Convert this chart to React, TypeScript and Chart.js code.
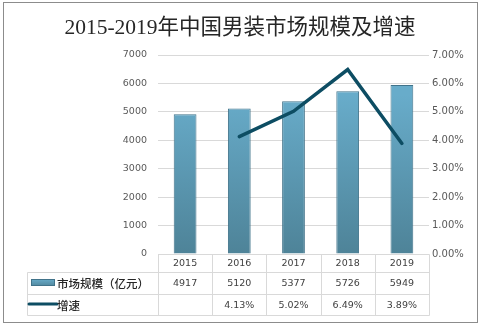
import React, { useEffect, useRef } from "react";
import { Chart, registerables } from "chart.js";

Chart.register(...registerables);

const TITLE = "2015-2019年中国男装市场规模及增速";
const YEARS = ["2015", "2016", "2017", "2018", "2019"];
const MARKET_LABEL = "市场规模（亿元）";
const GROWTH_LABEL = "增速";
const MARKET = [4917, 5120, 5377, 5726, 5949];
const GROWTH: (number | null)[] = [null, 4.13, 5.02, 6.49, 3.89];
const LEFT_TICKS = [0, 1000, 2000, 3000, 4000, 5000, 6000, 7000];
const RIGHT_TICKS = [0, 1, 2, 3, 4, 5, 6, 7];

const W = 483;
const H = 326;
const NUM_FONT = '9.5px "DejaVu Sans", sans-serif';
const TEXT_COLOR = "#404040";

function barGradient(ctx: CanvasRenderingContext2D, top: number, bottom: number) {
  const g = ctx.createLinearGradient(0, top, 0, bottom);
  g.addColorStop(0, "#68acca");
  g.addColorStop(1, "#4e8398");
  return g;
}

const tablePlugin = {
  id: "tablePlugin",
  beforeDraw(chart: any) {
    const ctx = chart.ctx as CanvasRenderingContext2D;
    ctx.save();
    ctx.fillStyle = "#ffffff";
    ctx.fillRect(0, 0, W, H);
    ctx.restore();
  },
  afterDraw(chart: any) {
    const ctx = chart.ctx as CanvasRenderingContext2D;
    const area = chart.chartArea;
    const xs = chart.scales.x;
    const n = YEARS.length;
    const colW = (area.right - area.left) / n;
    const legendLeft = 27.5;
    const r0 = Math.round(area.bottom) + 0.5;
    const r1 = 272.5;
    const r2 = 294.5;
    const r3 = 315.5;

    ctx.save();
    // outer border
    ctx.strokeStyle = "#8c8c8c";
    ctx.lineWidth = 1;
    ctx.strokeRect(3.5, 2.5, 474, 320);

    // title
    ctx.fillStyle = "#262626";
    ctx.font = '21.5px "Liberation Serif", "Noto Sans CJK SC", serif';
    ctx.textAlign = "center";
    ctx.textBaseline = "middle";
    ctx.fillText(TITLE, 240, 28);

    // table grid
    ctx.strokeStyle = "#d9d9d9";
    ctx.lineWidth = 1;
    ctx.beginPath();
    ctx.moveTo(Math.round(area.left) + 0.5, r0);
    ctx.lineTo(Math.round(area.right) + 0.5, r0);
    ctx.moveTo(legendLeft, r1);
    ctx.lineTo(Math.round(area.right) + 0.5, r1);
    ctx.moveTo(legendLeft, r2);
    ctx.lineTo(Math.round(area.right) + 0.5, r2);
    ctx.moveTo(legendLeft, r3);
    ctx.lineTo(Math.round(area.right) + 0.5, r3);
    ctx.moveTo(legendLeft, r1);
    ctx.lineTo(legendLeft, r3);
    for (let i = 0; i <= n; i++) {
      const x = Math.round(area.left + colW * i) + 0.5;
      ctx.moveTo(x, r0);
      ctx.lineTo(x, r3);
    }
    ctx.stroke();

    // header years and values
    ctx.fillStyle = TEXT_COLOR;
    ctx.font = NUM_FONT;
    ctx.textAlign = "center";
    ctx.textBaseline = "middle";
    for (let i = 0; i < n; i++) {
      const cx = xs.getPixelForValue(i);
      ctx.fillText(YEARS[i], cx, (r0 + r1) / 2 + 0.5);
      ctx.fillText(String(MARKET[i]), cx, (r1 + r2) / 2 + 0.5);
      const g = GROWTH[i];
      if (g !== null) ctx.fillText(g.toFixed(2) + "%", cx, (r2 + r3) / 2 + 0.5);
    }

    // legend swatches
    ctx.fillStyle = barGradient(ctx, 279, 287);
    ctx.fillRect(31, 279, 24, 7);
    ctx.strokeStyle = "#41738a";
    ctx.strokeRect(31.5, 279.5, 23, 6);

    ctx.strokeStyle = "#0d4d63";
    ctx.lineWidth = 3;
    ctx.lineCap = "round";
    ctx.beginPath();
    ctx.moveTo(29, 304);
    ctx.lineTo(57, 304);
    ctx.stroke();

    ctx.fillStyle = "#262626";
    ctx.font = '500 11.5px "Noto Sans CJK SC", sans-serif';
    ctx.textAlign = "left";
    ctx.fillText(MARKET_LABEL, 57, (r1 + r2) / 2 + 0.5);
    ctx.fillText(GROWTH_LABEL, 57, (r2 + r3) / 2 + 0.5);
    ctx.restore();
  },
};

export default function App() {
  const ref = useRef<HTMLCanvasElement | null>(null);

  useEffect(() => {
    if (!ref.current) return;
    const chart = new Chart(ref.current, {
      type: "bar",
      data: {
        labels: YEARS,
        datasets: [
          {
            type: "line",
            label: GROWTH_LABEL,
            data: GROWTH,
            yAxisID: "y1",
            borderColor: "#0d4d63",
            borderWidth: 3.5,
            pointRadius: 0,
            tension: 0,
            borderCapStyle: "round",
            borderJoinStyle: "miter",
            spanGaps: false,
            order: 0,
          } as any,
          {
            type: "bar",
            label: MARKET_LABEL,
            data: MARKET,
            yAxisID: "y",
            backgroundColor: (c: any) => {
              const a = c.chart.chartArea;
              if (!a) return "#5d9ab5";
              return barGradient(c.chart.ctx, a.top + 40, a.bottom);
            },
            borderColor: "#41738a",
            borderWidth: 1,
            borderSkipped: "bottom",
            barPercentage: 0.42,
            categoryPercentage: 1,
            order: 1,
          } as any,
        ],
      },
      options: {
        responsive: false,
        animation: false,
        devicePixelRatio: 1,
        layout: { padding: { top: 55, bottom: 72, left: 0, right: 0 } },
        plugins: {
          legend: { display: false },
          title: { display: false },
          tooltip: { enabled: false },
        },
        scales: {
          x: { display: false, offset: true },
          y: {
            position: "left",
            min: 0,
            max: 7000,
            afterBuildTicks: (s: any) => {
              s.ticks = LEFT_TICKS.map((v) => ({ value: v }));
            },
            grid: { color: "#d9d9d9", drawTicks: false, lineWidth: 1 },
            border: { display: false },
            ticks: {
              color: "#595959",
              font: { family: '"DejaVu Sans", sans-serif', size: 9.5 },
              padding: 11,
              callback: (v: any) => String(v),
            },
            afterFit: (s: any) => {
              s.width = 158;
            },
          },
          y1: {
            position: "right",
            min: 0,
            max: 7,
            afterBuildTicks: (s: any) => {
              s.ticks = RIGHT_TICKS.map((v) => ({ value: v }));
            },
            grid: { drawOnChartArea: false, drawTicks: false },
            border: { display: false },
            ticks: {
              color: "#595959",
              font: { family: '"DejaVu Sans", sans-serif', size: 10 },
              padding: 3,
              callback: (v: any) => Number(v).toFixed(2) + "%",
            },
            afterFit: (s: any) => {
              s.width = 54;
            },
          },
        },
      } as any,
      plugins: [tablePlugin],
    });
    return () => chart.destroy();
  }, []);

  return (
    <div style={{ position: "fixed", left: 0, top: 0, width: W, height: H, background: "#fff" }}>
      <canvas ref={ref} width={W} height={H} style={{ display: "block", width: W, height: H }} />
    </div>
  );
}
